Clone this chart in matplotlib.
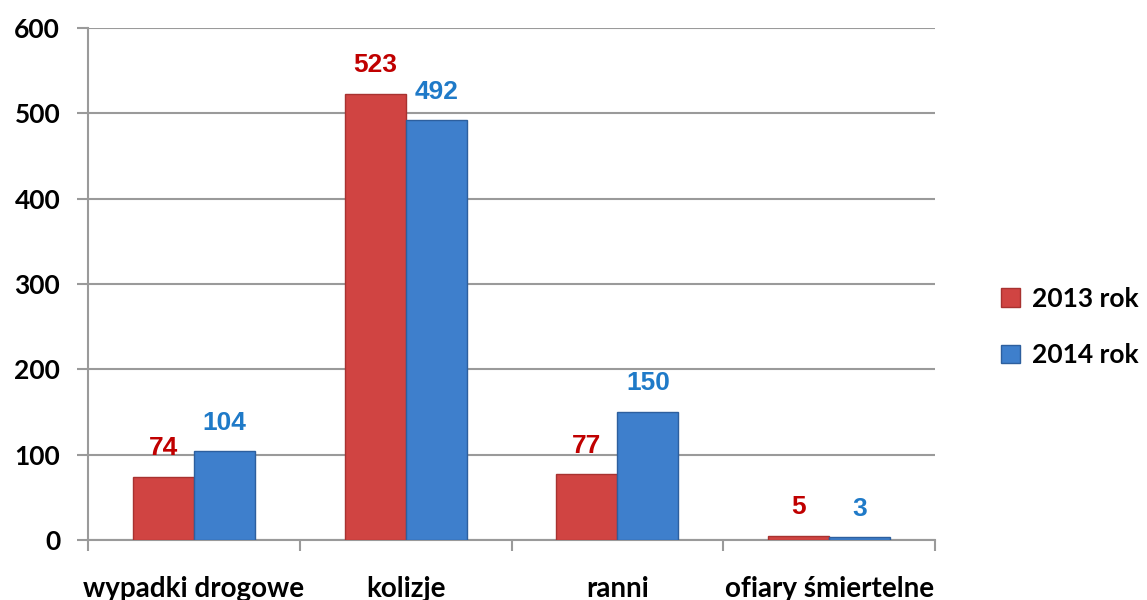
import matplotlib.pyplot as plt
import numpy as np

categories = ['wypadki drogowe', 'kolizje', 'ranni', 'ofiary śmiertelne']
series_names = ['2013 rok', '2014 rok']
values_2013 = [74, 523, 77, 5]
values_2014 = [104, 492, 150, 3]
y_ticks = [0, 100, 200, 300, 400, 500, 600]

plt.rcParams['font.family'] = ['Lato', 'DejaVu Sans']

fig = plt.figure(figsize=(11.47, 6.0), dpi=100)
ax = fig.add_axes([0.0767, 0.10, 0.7385, 0.8533])

x = np.arange(len(categories))
w = 0.288
grid_c = '#9a9a9a'

# bars
b1 = ax.bar(x - w / 2, values_2013, w, color='#d04442', edgecolor='#a83230',
            linewidth=1, label=series_names[0], zorder=3)
b2 = ax.bar(x + w / 2, values_2014, w, color='#3e7fcc', edgecolor='#2d5f9e',
            linewidth=1, label=series_names[1], zorder=3)

# value labels
for bars, vals, col in [(b1, values_2013, '#c00000'), (b2, values_2014, '#1f7ac8')]:
    for b, v in zip(bars, vals):
        ax.annotate(str(v), (b.get_x() + b.get_width() / 2, v),
                    xytext=(0, 12), textcoords='offset points',
                    ha='center', va='bottom', color=col, fontsize=19,
                    fontweight='bold', family='Liberation Sans')

ax.set_xlim(-0.5, len(categories) - 0.5)
ax.set_ylim(0, 600)
ax.set_yticks(y_ticks)
ax.set_yticklabels([str(t) for t in y_ticks], fontsize=19, fontweight='bold')
ax.yaxis.grid(True, color=grid_c, linewidth=1.5, zorder=0)
ax.tick_params(axis='y', length=8, width=1.5, color=grid_c, pad=12)

# category ticks at boundaries
ax.set_xticks(np.arange(len(categories) + 1) - 0.5)
ax.set_xticklabels([])
ax.set_xticks(x, minor=True)
ax.set_xticklabels(categories, minor=True, fontsize=20, fontweight='bold')
ax.tick_params(axis='x', which='major', length=8, width=1.5, color=grid_c)
ax.tick_params(axis='x', which='minor', length=0, pad=26)

for s in ['top', 'right']:
    ax.spines[s].set_visible(False)
for s in ['left', 'bottom']:
    ax.spines[s].set_color(grid_c)
    ax.spines[s].set_linewidth(1.5)

leg = fig.legend(handles=[b1, b2], loc='center left', bbox_to_anchor=(0.873, 0.455),
                 frameon=False, fontsize=19, handlelength=0.7, handleheight=0.7,
                 labelspacing=1.25, handletextpad=0.45, borderaxespad=0,
                 borderpad=0)
for t in leg.get_texts():
    t.set_fontweight('bold')

fig.savefig('out.png', dpi=100)
